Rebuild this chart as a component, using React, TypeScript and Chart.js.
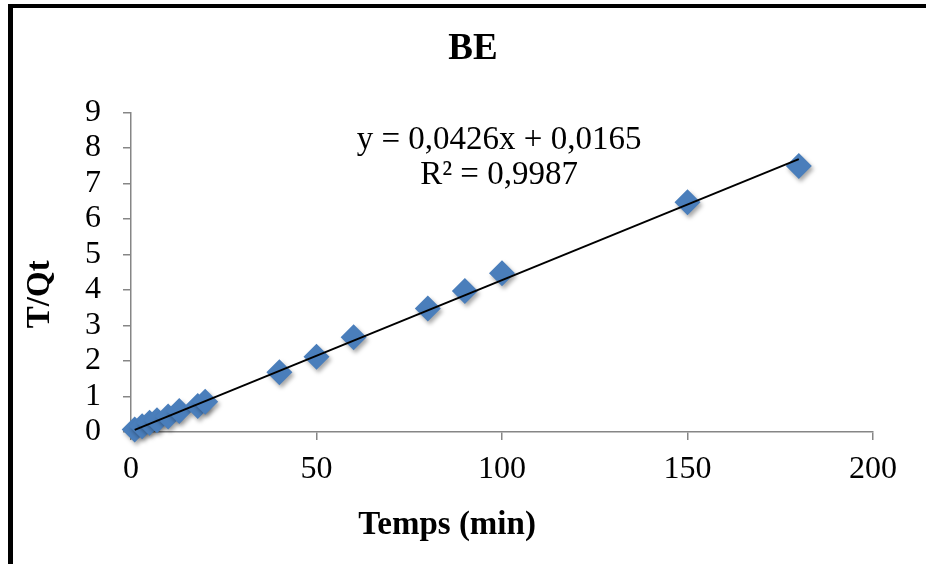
import { useEffect, useRef } from "react";
import { Chart, registerables } from "chart.js";

Chart.register(...registerables);

// Sorption kinetics (pseudo-second order plot): t / Qt against time
const timeMin = [1, 3, 5, 7, 10, 13, 18, 20, 40, 50, 60, 80, 90, 100, 150, 180];
const tOverQt = [0.07, 0.16, 0.26, 0.33, 0.44, 0.59, 0.73, 0.85, 1.68, 2.12, 2.67, 3.48, 3.97, 4.47, 6.47, 7.49];

// Linear fit shown on the plot
const slope = 0.0426;
const intercept = 0.0165;
const equationLabel = "y = 0,0426x + 0,0165";
const r2Label = "R² = 0,9987";

const chartTitle = "BE";
const xTitle = "Temps (min)";
const yTitle = "T/Qt";
const xRange = [0, 200];
const yRange = [0, 9];
const xStep = 50;
const yStep = 1;

const W = 926;
const H = 564;
const SERIF = '"Liberation Serif", "DejaVu Serif", serif';
const AXIS_GRAY = "#868686";
const MARKER_BLUE = "#4a7ebb";

export default function App() {
  const canvasRef = useRef<HTMLCanvasElement | null>(null);

  useEffect(() => {
    const canvas = canvasRef.current;
    if (!canvas) return;

    const scatter = timeMin.map((x, i) => ({ x, y: tOverQt[i] }));
    const xFirst = Math.min(...timeMin);
    const xLast = Math.max(...timeMin);
    const trend = [xFirst, xLast].map((x) => ({ x, y: slope * x + intercept }));

    // soft drop shadow under the diamond markers
    const markerShadow = {
      id: "markerShadow",
      beforeDatasetDraw(chart: any, args: any) {
        if (args.index !== 1) return;
        const c = chart.ctx;
        c.save();
        c.shadowColor = "rgba(0,0,0,0.35)";
        c.shadowBlur = 4;
        c.shadowOffsetX = 2;
        c.shadowOffsetY = 3;
      },
      afterDatasetDraw(chart: any, args: any) {
        if (args.index !== 1) return;
        chart.ctx.restore();
      },
    };

    // frame, fit equation and axis titles
    const overlay = {
      id: "overlay",
      afterDraw(chart: any) {
        const { ctx, chartArea: a } = chart;
        const aw = a.right - a.left;
        const ah = a.bottom - a.top;
        ctx.save();
        ctx.fillStyle = "#000";
        ctx.fillRect(8, 4, W - 8, 4);
        ctx.fillRect(8, 4, 5, H - 4);

        ctx.textAlign = "center";
        ctx.textBaseline = "middle";
        ctx.font = `33px ${SERIF}`;
        ctx.fillText(equationLabel, a.left + aw * 0.496, a.top + ah * 0.088);
        ctx.fillText(r2Label, a.left + aw * 0.496, a.top + ah * 0.197);

        ctx.font = `bold 33px ${SERIF}`;
        ctx.fillText(xTitle, a.left + aw * 0.426, a.bottom + 93);

        ctx.translate(40, a.top + ah * 0.569);
        ctx.rotate(-Math.PI / 2);
        ctx.fillText(yTitle, 0, 0);
        ctx.restore();
      },
    };

    const chart = new Chart(canvas, {
      type: "scatter",
      data: {
        datasets: [
          {
            type: "line",
            label: "trend",
            data: trend,
            borderColor: "#000",
            borderWidth: 2,
            pointRadius: 0,
            fill: false,
            order: 0,
          },
          {
            label: "BE",
            data: scatter,
            pointStyle: "rectRot",
            pointRadius: 13,
            pointHoverRadius: 13,
            backgroundColor: MARKER_BLUE,
            borderColor: MARKER_BLUE,
            borderWidth: 0,
            clip: false as any,
            order: 1,
          },
        ],
      },
      options: {
        responsive: false,
        animation: false,
        events: [],
        layout: { padding: { left: 73, right: 53, top: 0, bottom: 0 } },
        plugins: {
          legend: { display: false },
          tooltip: { enabled: false },
          title: {
            display: true,
            text: chartTitle,
            color: "#000",
            font: { family: SERIF, size: 37, weight: "bold" },
            padding: { top: 27, bottom: 41 },
          },
        },
        scales: {
          x: {
            type: "linear",
            min: xRange[0],
            max: xRange[1],
            afterFit: (s: any) => {
              s.height = 132;
            },
            ticks: {
              stepSize: xStep,
              autoSkip: false,
              color: "#000",
              padding: 10,
              maxRotation: 0,
              font: { family: SERIF, size: 32 },
            },
            grid: {
              drawOnChartArea: false,
              drawTicks: true,
              tickLength: 8,
              color: AXIS_GRAY,
              lineWidth: 1.5,
            },
            border: { display: true, color: AXIS_GRAY, width: 1.5 },
          },
          y: {
            type: "linear",
            min: yRange[0],
            max: yRange[1],
            afterFit: (s: any) => {
              s.width = 58;
            },
            ticks: {
              stepSize: yStep,
              autoSkip: false,
              color: "#000",
              padding: 22,
              font: { family: SERIF, size: 32 },
            },
            grid: {
              drawOnChartArea: false,
              drawTicks: true,
              tickLength: 8,
              color: AXIS_GRAY,
              lineWidth: 1.5,
            },
            border: { display: true, color: AXIS_GRAY, width: 1.5 },
          },
        },
      },
      plugins: [markerShadow, overlay],
    });

    return () => chart.destroy();
  }, []);

  return (
    <div style={{ position: "absolute", left: 0, top: 0, width: W, height: H, background: "#fff" }}>
      <canvas ref={canvasRef} width={W} height={H} style={{ display: "block" }} />
    </div>
  );
}
